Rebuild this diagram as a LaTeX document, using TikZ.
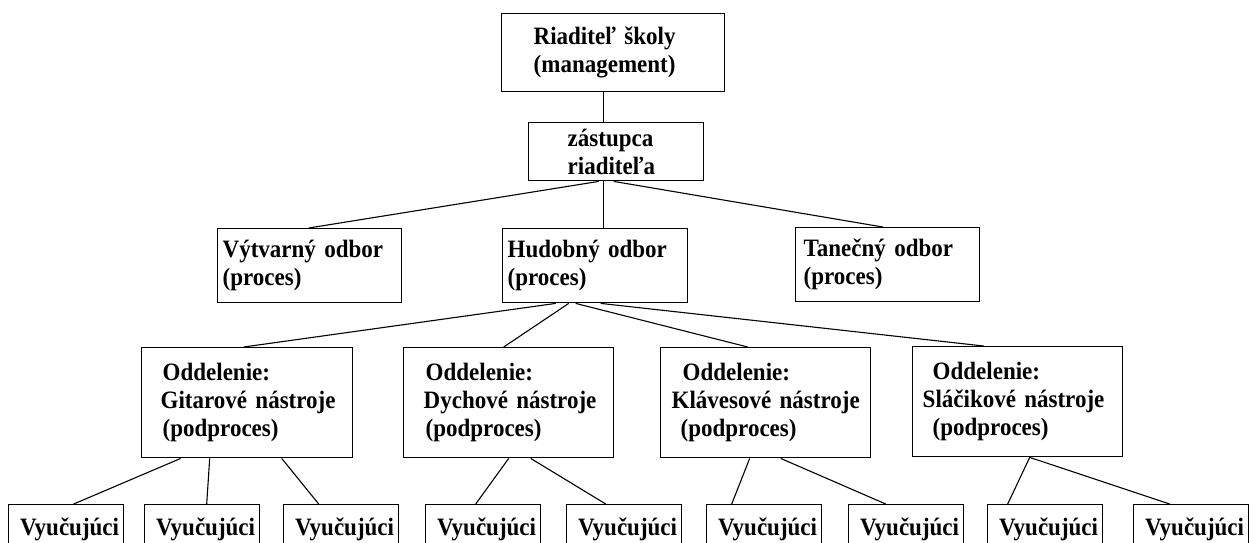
\documentclass[tikz,border=0pt]{standalone}
\usepackage{fontspec}
\setmainfont[FakeStretch=0.92]{Liberation Serif}
\tikzset{
  org unit/.style={
    rectangle,
    draw=black,
    line width=1.4pt,
    anchor=north west,
    align=left,
    inner ysep=0pt,
    font=\fontsize{25}{28}\selectfont\bfseries,
  },
  org dept/.style={
    org unit,
    minimum height=110pt,
  },
  org teacher/.style={
    org unit,
    align=center,
    text width=92pt,
    inner xsep=11.5pt,
    minimum height=50pt,
  },
  org line/.style={line width=1.1pt},
}
\begin{document}
\begin{tikzpicture}[x=1pt,y=-1pt]
  \useasboundingbox (0,0) rectangle (1258,542);
  \clip (0,0) rectangle (1258,542);

  \node[org unit,text width=159pt,inner xsep=32pt,minimum height=78pt] (director) at (501,13) {Riaditeľ školy\\(management)};
  \node[org unit,text width=97pt,inner xsep=39pt,minimum height=58pt] (deputy) at (528,122) {zástupca\\riaditeľa};

  \node[org unit,text width=174pt,inner xsep=5pt,minimum height=74pt] (art) at (217,228) {Výtvarný odbor\\(proces)};
  \node[org unit,text width=175pt,inner xsep=5pt,minimum height=74pt] (music) at (502,228) {Hudobný odbor\\(proces)};
  \node[org unit,text width=168pt,inner xsep=8pt,minimum height=74pt] (dance) at (795,227) {Tanečný odbor\\(proces)};

  \node[org dept,text width=173pt,inner xsep=19pt] (guitar) at (141,347) {\hspace*{2pt}Oddelenie:\\Gitarové~nástroje\\\hspace*{2pt}(podproces)};
  \node[org dept,text width=170pt,inner xsep=20pt] (wind) at (403,347) {\hspace*{2pt}Oddelenie:\\Dychové~nástroje\\\hspace*{2pt}(podproces)};
  \node[org dept,text width=188pt,inner xsep=11pt] (keys) at (660,347) {\hspace*{11pt}Oddelenie:\\Klávesové~nástroje\\\hspace*{9pt}(podproces)};
  \node[org dept,text width=190pt,inner xsep=10pt] (strings) at (912,346) {\hspace*{10pt}Oddelenie:\\Sláčikové~nástroje\\\hspace*{10pt}(podproces)};

  \foreach \n/\x in {1/8,2/144,3/283,4/425,5/566,6/706,7/848,8/987,9/1133}
    \node[org teacher] (teacher\n) at (\x,504) {Vyučujúci};

  \draw[org line] ([xshift=-9.5pt]director.south) -- ([xshift=-12.5pt]deputy.north);

  \draw[org line] ([xshift=-17.5pt]deputy.south) -- ([xshift=-1pt]art.north);
  \draw[org line] ([xshift=-12.5pt]deputy.south) -- ([xshift=8.5pt]music.north);
  \draw[org line] ([xshift=-2.5pt]deputy.south) -- ([xshift=-5pt]dance.north);

  \draw[org line] ([xshift=-39.5pt]music.south) -- ([xshift=-3.5pt]guitar.north);
  \draw[org line] ([xshift=-26.5pt]music.south) -- ([xshift=-5pt]wind.north);
  \draw[org line] ([xshift=-19.5pt]music.south) -- ([xshift=-18pt]keys.north);
  \draw[org line] ([xshift=5.5pt]music.south) -- ([xshift=-34pt]strings.north);

  \draw[org line] ([xshift=-66.5pt]guitar.south) -- ([xshift=7.5pt]teacher1.north);
  \draw[org line] ([xshift=-37.5pt]guitar.south) -- ([xshift=4.5pt]teacher2.north);
  \draw[org line] ([xshift=34.5pt]guitar.south) -- ([xshift=-22.5pt]teacher3.north);
  \draw[org line] (wind.south) -- ([xshift=-7.5pt]teacher4.north);
  \draw[org line] ([xshift=22pt]wind.south) -- ([xshift=-18.5pt]teacher5.north);
  \draw[org line] ([xshift=-16pt]keys.south) -- ([xshift=-32.5pt]teacher6.north);
  \draw[org line] ([xshift=15pt]keys.south) -- ([xshift=-20.5pt]teacher7.north);
  \draw[org line] ([xshift=12pt]strings.south) -- ([xshift=-37.5pt]teacher8.north);
  \draw[org line] ([xshift=12pt]strings.south) -- ([xshift=-21.5pt]teacher9.north);
\end{tikzpicture}
\end{document}
